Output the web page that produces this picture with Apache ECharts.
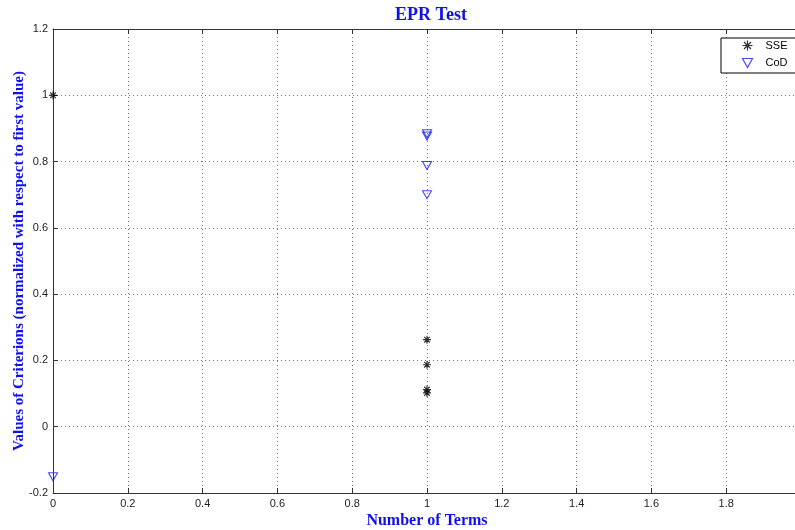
<!DOCTYPE html>
<html>
<head>
<meta charset="utf-8">
<script src="https://cdn.jsdelivr.net/npm/echarts@6/dist/echarts.min.js"></script>
<style>html,body{margin:0;padding:0;background:#fff}#c{width:795px;height:530px}</style>
</head>
<body>
<div id="c"></div>
<script>
var titleText = 'EPR Test';
var xAxisName = 'Number of Terms';
var yAxisName = 'Values of Criterions (normalized with respect to first value)';
var seriesNames = ['SSE', 'CoD'];
var sseX = [0, 1, 1, 1, 1];
var sseY = [1, 0.2625, 0.187, 0.112, 0.102];
var codX = [0, 1, 1, 1, 1];
var codY = [-0.151, 0.884, 0.877, 0.788, 0.700];

function pairs(xs, ys) { return xs.map(function (x, i) { return [x, ys[i]]; }); }

var starPath = 'path://M0,-10L0,10M-10,0L10,0M-7,-7L7,7M-7,7L7,-7';
var triPath = 'path://M-10,-8L10,-8L0,10Z';

var chart = echarts.init(document.getElementById('c'), null, {renderer: 'canvas'});
var axisText = {color: '#222', fontFamily: 'Liberation Sans, Arial', fontSize: 11};
var nameTextY = {color: '#1010ee', fontFamily: 'Liberation Serif', fontWeight: 'bold', fontSize: 15};
var nameTextX = {color: '#1010ee', fontFamily: 'Liberation Serif', fontWeight: 'bold', fontSize: 16};
function fmt(v) { return Math.round(v * 10) / 10 + ''; }
chart.setOption({
  animation: false,
  backgroundColor: '#fff',
  title: {
    text: titleText, left: 426, top: 1, textAlign: 'center',
    textStyle: {color: '#1010ee', fontFamily: 'Liberation Serif', fontWeight: 'bold', fontSize: 18}
  },
  legend: {
    left: 721, top: 38, orient: 'vertical', itemGap: 3, itemWidth: 10, itemHeight: 10,
    padding: [0, 14, 3, 19],
    borderColor: '#000', borderWidth: 1, backgroundColor: '#fff',
    textStyle: {color: '#000', fontFamily: 'Liberation Sans, Arial', fontSize: 11, padding: [0, 0, 0, 8]},
    data: [
      {name: seriesNames[0], icon: starPath, itemStyle: {color: 'none', borderColor: '#000', borderWidth: 1.2}},
      {name: seriesNames[1], icon: triPath, itemStyle: {color: 'none', borderColor: '#1a1aff', borderWidth: 1.2}}
    ]
  },
  grid: {left: 53, top: 29, bottom: 37, right: -6, containLabel: false, outerBoundsMode: 'none'},
  xAxis: [{
    type: 'value', min: 0, max: 2, interval: 0.2,
    name: xAxisName, nameLocation: 'middle', nameGap: 20, nameTextStyle: nameTextX,
    nameMoveOverlap: false,
    axisLine: {show: true, onZero: false, lineStyle: {color: '#333', width: 1}},
    axisTick: {show: true, inside: true, length: 5, lineStyle: {color: '#333'}},
    axisLabel: Object.assign({margin: 5, formatter: fmt}, axisText),
    splitLine: {show: true, lineStyle: {color: '#777', type: [1, 3], width: 1}}
  }, {
    type: 'value', position: 'top', min: 0, max: 2, interval: 0.2,
    axisLine: {show: true, onZero: false, lineStyle: {color: '#333', width: 1}},
    axisTick: {show: true, inside: true, length: 5, lineStyle: {color: '#333'}},
    axisLabel: {show: false}, splitLine: {show: false}
  }],
  yAxis: [{
    type: 'value', min: -0.2, max: 1.2, interval: 0.2,
    name: yAxisName, nameLocation: 'middle', nameGap: 26, nameRotate: 90, nameTextStyle: nameTextY,
    nameMoveOverlap: false,
    axisLine: {show: true, onZero: false, lineStyle: {color: '#333', width: 1}},
    axisTick: {show: true, inside: true, length: 5, lineStyle: {color: '#333'}},
    axisLabel: Object.assign({margin: 5, formatter: fmt}, axisText),
    splitLine: {show: true, lineStyle: {color: '#777', type: [1, 3], width: 1}}
  }],
  series: [{
    name: seriesNames[0], type: 'scatter', data: pairs(sseX, sseY),
    symbol: starPath, symbolSize: 8,
    itemStyle: {color: 'none', borderColor: '#000', borderWidth: 1.2}
  }, {
    name: seriesNames[1], type: 'scatter', data: pairs(codX, codY),
    symbol: triPath, symbolSize: [9, 8],
    itemStyle: {color: 'none', borderColor: '#1a1aff', borderWidth: 1.1}
  }]
});
</script>
</body>
</html>
